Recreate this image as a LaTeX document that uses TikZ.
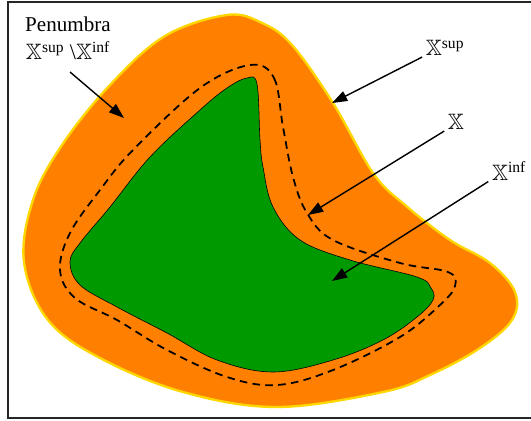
\documentclass[tikz,border=0pt]{standalone}
\usepackage{amsmath,amssymb}
\usepackage{fontspec}
\setmainfont{Liberation Serif}
\usepackage{xcolor}
\usetikzlibrary{arrows.meta,positioning}
\definecolor{penorange}{RGB}{255,128,0}
\definecolor{rimyellow}{RGB}{255,215,0}
\definecolor{setgreen}{RGB}{0,153,0}
\tikzset{
    frame/.style={draw=black!85,line width=1.8pt},
    supset/.style={fill=penorange,draw=rimyellow,line width=2pt},
    infset/.style={fill=setgreen,draw=black,line width=0.5pt},
    boundary/.style={draw=black,dashed,line width=1.5pt,dash pattern=on 6.5pt off 4.5pt},
    lbl/.style={inner sep=1pt,font=\fontsize{19}{21}\selectfont},
    title/.style={inner sep=1pt,font=\fontsize{18}{20}\selectfont},
    arr/.style={-{Triangle[length=13pt,width=9pt]},line width=1.2pt}
}

\begin{document}
\begin{tikzpicture}[x=0.03cm,y=-0.03cm]
    \useasboundingbox (0,0) rectangle (531,421);
    \draw[frame] (531,2) -- (8,2) -- (8,418) -- (531,418);

    % outer set
    \draw[supset] plot[smooth cycle,tension=0.6] coordinates {
        (227,15) (262,23) (292,45) (333,103) (373,173) (405,205) (450,240)
        (490,263) (515,292) (512,320) (480,348) (430,375) (383,392) (277,407)
        (183,392) (100,358) (48,320) (24,262) (33,200) (62,145) (110,85) (165,36)};
    % inner set
    \draw[infset] plot[smooth cycle,tension=0.6] coordinates {
        (247,78) (257,84) (260,140) (263,167) (273,207) (300,240) (350,260)
        (417,277) (431,288) (433,300) (417,317) (383,340) (333,360) (273,372)
        (217,360) (167,333) (117,307) (80,285) (70,262) (80,243) (110,207)
        (150,157) (200,110) (227,88)};
    % the set itself
    \draw[boundary] plot[smooth cycle,tension=0.6] coordinates {
        (250,65) (274,78) (283,127) (293,177) (307,213) (333,240) (400,263)
        (448,272) (455,286) (440,305) (400,337) (333,370) (277,385) (227,377)
        (167,350) (117,320) (75,298) (60,270) (70,233) (100,190) (133,150)
        (200,88)};

    \node[title] (penumbra) at (68,24) {Penumbra};
    \node[lbl,below=6pt of penumbra] (diff) {$\mathbb{X}^{\text{sup}}$ \textbackslash$\mathbb{X}^{\text{inf}}$};
    \node[lbl] (xsup) at (445,48) {$\mathbb{X}^{\text{sup}}$};
    \node[lbl] (xset) at (456,122) {$\mathbb{X}$};
    \node[lbl] (xinf) at (509,171) {$\mathbb{X}^{\text{inf}}$};

    \coordinate (pentail) at (70,72);
    \coordinate (pentip) at (124,118);
    \coordinate (suptip) at (332,103);
    \coordinate (settip) at (308,215);
    \coordinate (inftip) at (332,281);

    \draw[arr] (pentail) -- (pentip);
    \draw[arr] ([xshift=-2pt]xsup.south west) -- (suptip);
    \draw[arr] ([xshift=-2pt]xset.south west) -- (settip);
    \draw[arr] ([xshift=-2pt]xinf.south west) -- (inftip);
\end{tikzpicture}
\end{document}
